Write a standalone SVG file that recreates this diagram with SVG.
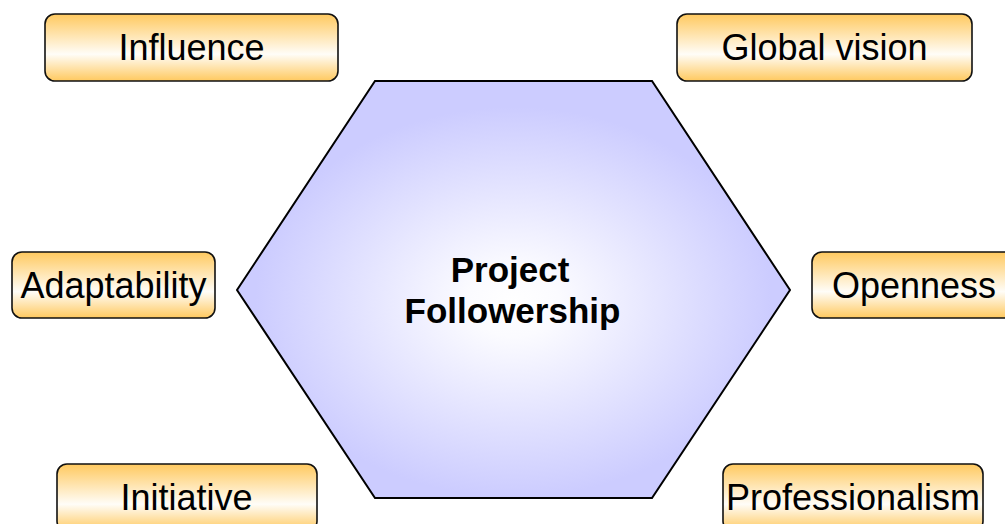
<svg xmlns="http://www.w3.org/2000/svg" width="1005" height="524" viewBox="0 0 1005 524">
  <defs>
    <linearGradient id="boxFill" x1="0" y1="0" x2="0" y2="1">
      <stop offset="0" stop-color="#FFC95F"/>
      <stop offset="0.6" stop-color="#FFFDF8"/>
      <stop offset="1" stop-color="#FFC95F"/>
    </linearGradient>
    <radialGradient id="hexFill" cx="0.5" cy="0.53" r="0.55">
      <stop offset="0" stop-color="#FFFFFF"/>
      <stop offset="0.15" stop-color="#FBFBFF"/>
      <stop offset="0.85" stop-color="#CCCCFF"/>
      <stop offset="1" stop-color="#CCCCFF"/>
    </radialGradient>
  </defs>
  <style>
    .box { fill: url(#boxFill); stroke: #111; stroke-width: 1.6; }
    .label { font-family: "Liberation Sans", Arial, sans-serif; font-size: 36px; fill: #000; text-anchor: middle; }
    .hex { fill: url(#hexFill); stroke: #000; stroke-width: 2; stroke-linejoin: miter; }
    .title { font-family: "Liberation Sans", Arial, sans-serif; font-size: 35px; font-weight: bold; fill: #000; text-anchor: middle; }
  </style>
  <rect width="1005" height="524" fill="#FFFFFF"/>

  <g id="center">
    <polygon class="hex" points="375,81 652,81 790,290 652,498 375,498 237,290"/>
    <text class="title" x="510" y="282">Project</text>
    <text class="title" x="512.5" y="323">Followership</text>
  </g>

  <g id="connectors"/>

  <g id="influence">
    <rect class="box" x="45" y="14" width="293" height="67" rx="10"/>
    <text class="label" x="191.5" y="60">Influence</text>
  </g>
  <g id="global-vision">
    <rect class="box" x="677" y="14" width="295" height="67" rx="10"/>
    <text class="label" x="824.5" y="60">Global vision</text>
  </g>
  <g id="adaptability">
    <rect class="box" x="12" y="252" width="203" height="66" rx="10"/>
    <text class="label" x="113.5" y="298">Adaptability</text>
  </g>
  <g id="openness">
    <rect class="box" x="812" y="252" width="206" height="66" rx="10"/>
    <text class="label" x="914" y="298">Openness</text>
  </g>
  <g id="initiative">
    <rect class="box" x="57" y="464" width="260" height="67" rx="10"/>
    <text class="label" x="186.5" y="510">Initiative</text>
  </g>
  <g id="professionalism">
    <rect class="box" x="723" y="464" width="260" height="67" rx="10"/>
    <text class="label" x="853" y="510">Professionalism</text>
  </g>
</svg>
